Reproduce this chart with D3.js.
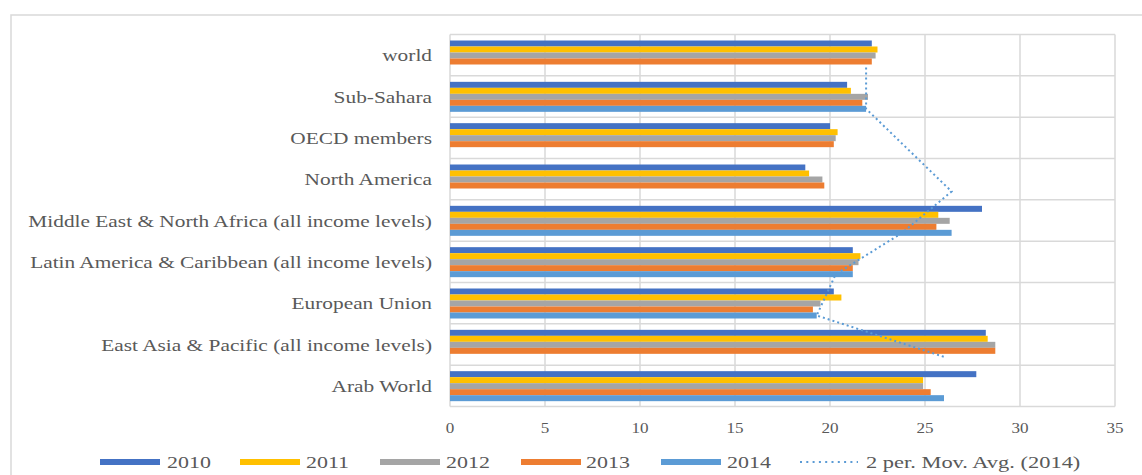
<!DOCTYPE html>
<html>
<head>
<meta charset="utf-8">
<script src="https://cdn.jsdelivr.net/npm/d3@7"></script>
<style>
  html, body { margin: 0; padding: 0; background: #fff; }
  svg { display: block; }
</style>
</head>
<body>
<svg id="chart" width="1142" height="475"></svg>
<script>
// Regions, listed top to bottom as they appear on the category axis
const categories = [
  "world",
  "Sub-Sahara",
  "OECD members",
  "North America",
  "Middle East & North Africa (all income levels)",
  "Latin America & Caribbean (all income levels)",
  "European Union",
  "East Asia & Pacific (all income levels)",
  "Arab World"
];

const years = ["2010", "2011", "2012", "2013", "2014"];

// Values per year (null = no data)
const v2010 = [22.2, 20.9, 20.0, 18.7, 28.0, 21.2, 20.2, 28.2, 27.7];
const v2011 = [22.5, 21.1, 20.4, 18.9, 25.7, 21.6, 20.6, 28.3, 24.9];
const v2012 = [22.4, 22.0, 20.3, 19.6, 26.3, 21.5, 19.5, 28.7, 24.9];
const v2013 = [22.2, 21.7, 20.2, 19.7, 25.6, 21.2, 19.1, 28.7, 25.3];
const v2014 = [null, 21.9, null, null, 26.4, 21.2, 19.3, null, 26.0];

// 2-period moving average of the 2014 series
const movAvg2014 = [21.9, 21.9, null, 26.4, 23.8, 20.3, 19.3, 26.0, null];

const xTicks = [0, 5, 10, 15, 20, 25, 30, 35];

const colors = ["#4472C4", "#FFC000", "#A5A5A5", "#ED7D31", "#5B9BD5"];
const trendColor = "#5B9BD5";
const textColor = "#595959";
const gridColor = "#D9D9D9";
const fontFamily = "'Liberation Serif', 'Times New Roman', serif";

const seriesValues = [v2010, v2011, v2012, v2013, v2014];

const svg = d3.select("#chart");

// Outer chart frame
svg.append("rect")
  .attr("x", 11).attr("y", 15)
  .attr("width", 1200).attr("height", 500)
  .attr("fill", "#fff")
  .attr("stroke", gridColor).attr("stroke-width", 1.5);

const plot = { left: 450, right: 1115, top: 34.5, bottom: 406.5 };

const x = d3.scaleLinear().domain([0, 35]).range([plot.left, plot.right]);
const y = d3.scaleBand().domain(categories).range([plot.top, plot.bottom]).padding(0);
const groupOffset = 6;
const inner = d3.scaleBand().domain(years).range([0, 30]).padding(0);

// Grid lines
const grid = svg.append("g");
grid.selectAll("line.v").data(xTicks).join("line")
  .attr("x1", d => x(d)).attr("x2", d => x(d))
  .attr("y1", plot.top).attr("y2", plot.bottom)
  .attr("stroke", gridColor).attr("stroke-width", 1.5);
const hLines = categories.map(c => y(c)).concat([plot.bottom]);
grid.selectAll("line.h").data(hLines).join("line")
  .attr("x1", plot.left).attr("x2", plot.right)
  .attr("y1", d => d).attr("y2", d => d)
  .attr("stroke", gridColor).attr("stroke-width", 1.5);

// Bars
const bars = svg.append("g");
years.forEach((yr, si) => {
  const rows = categories.map((c, i) => ({ c, v: seriesValues[si][i] })).filter(d => d.v != null);
  bars.selectAll(null).data(rows).join("rect")
    .attr("x", x(0))
    .attr("y", d => y(d.c) + groupOffset + inner(yr))
    .attr("width", d => x(d.v) - x(0))
    .attr("height", inner.bandwidth())
    .attr("fill", colors[si]);
});

// Moving-average trendline, placed on the 2014 bar slot
const trendPts = categories.map((c, i) => ({ c, v: movAvg2014[i] })).filter(d => d.v != null);
const line = d3.line()
  .x(d => x(d.v))
  .y(d => y(d.c) + groupOffset + inner("2014") + inner.bandwidth() / 2);
svg.append("path")
  .datum(trendPts)
  .attr("d", line)
  .attr("fill", "none")
  .attr("stroke", trendColor)
  .attr("stroke-width", 2)
  .attr("stroke-dasharray", "2,3");

// Text helper with horizontal stretch
function label(g, tx, ty, txt, size, anchor, stretch) {
  return g.append("text")
    .attr("transform", `translate(${tx},${ty}) scale(${stretch},1)`)
    .attr("text-anchor", anchor)
    .attr("dy", "0.35em")
    .attr("font-family", fontFamily)
    .attr("font-size", size)
    .attr("fill", textColor)
    .text(txt);
}

// Category labels
const catG = svg.append("g");
categories.forEach(c => label(catG, 432, y(c) + y.bandwidth() / 2, c, 17.5, "end", 1.22));

// Value axis labels
const tickG = svg.append("g");
xTicks.forEach(t => label(tickG, x(t), 428, String(t), 14, "middle", 1.22));

// Legend
const legG = svg.append("g");
const legendY = 462;
const swatchX = [100, 240, 380, 521, 661];
const legTextX = [167, 306, 446, 586, 727];
years.forEach((yr, i) => {
  legG.append("rect")
    .attr("x", swatchX[i]).attr("y", legendY - 3)
    .attr("width", 60).attr("height", 6)
    .attr("fill", colors[i]);
  label(legG, legTextX[i], legendY, yr, 16.5, "start", 1.33);
});
legG.append("line")
  .attr("x1", 800).attr("x2", 858)
  .attr("y1", legendY).attr("y2", legendY)
  .attr("stroke", trendColor).attr("stroke-width", 2)
  .attr("stroke-dasharray", "2,4.3");
label(legG, 866, legendY, "2 per. Mov. Avg. (2014)", 16.5, "start", 1.36);
</script>
</body>
</html>
